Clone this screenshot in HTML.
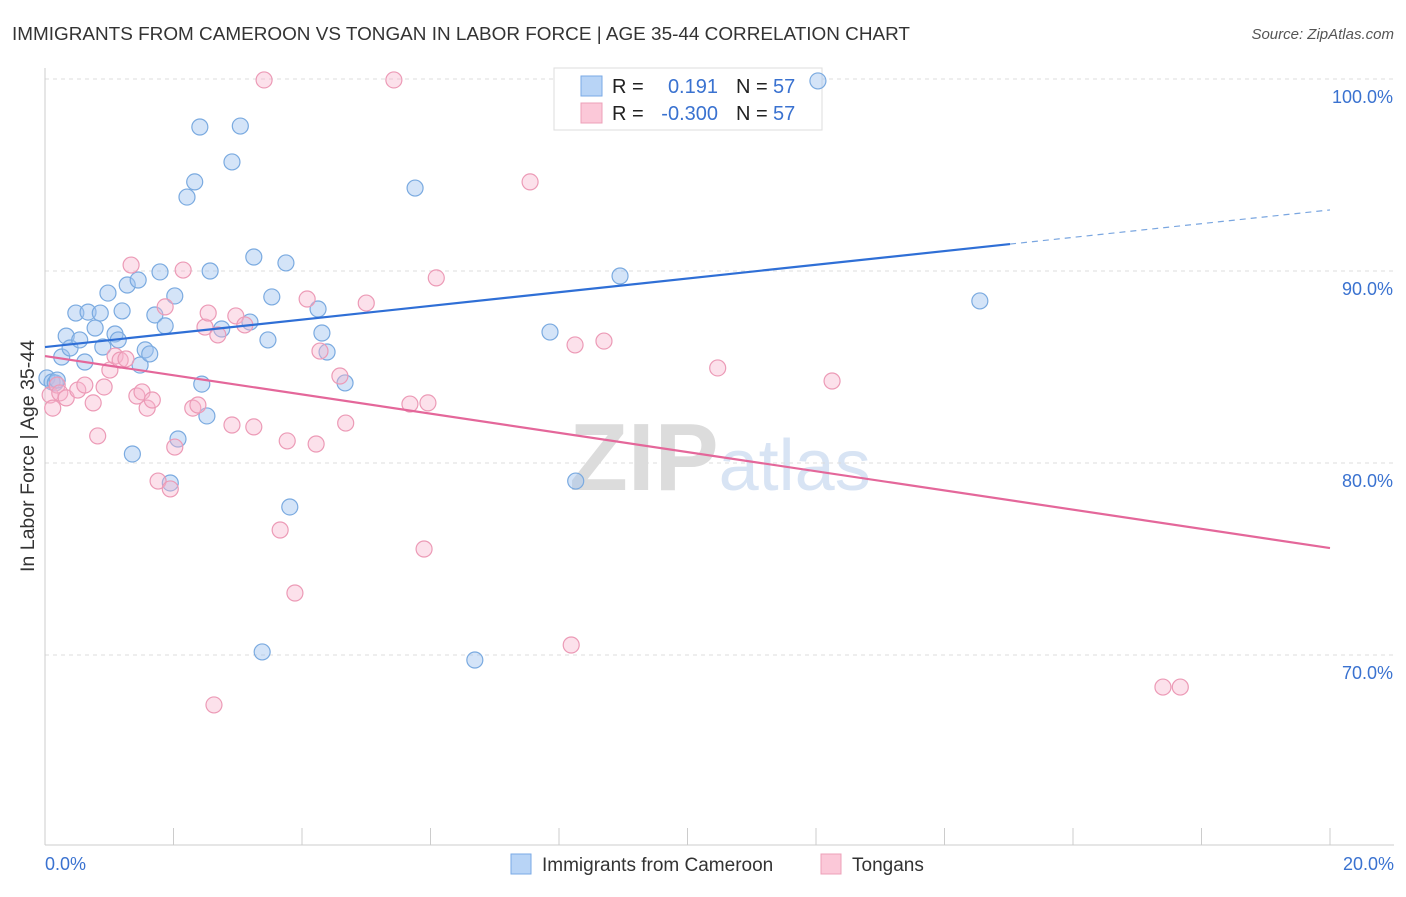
<!DOCTYPE html>
<html><head><meta charset="utf-8"><style>
body{margin:0;background:#fff;font-family:"Liberation Sans",sans-serif}
svg text{font-family:"Liberation Sans",sans-serif}
</style></head><body>
<svg id="chart" width="1406" height="892" xmlns="http://www.w3.org/2000/svg">
<text x="12" y="40" font-size="18.5" fill="#333" textLength="898" lengthAdjust="spacingAndGlyphs">IMMIGRANTS FROM CAMEROON VS TONGAN IN LABOR FORCE | AGE 35-44 CORRELATION CHART</text>
<text x="1394" y="39" font-size="15" fill="#555" font-style="italic" text-anchor="end">Source: ZipAtlas.com</text>
<text x="720" y="490" font-size="96" fill="#e4e4e4" text-anchor="middle" font-family="Liberation Serif"><tspan font-weight="bold" fill="#dcdcdc">ZIP</tspan><tspan fill="#d8e4f4" font-family="Liberation Sans" font-size="72">atlas</tspan></text>
<text transform="translate(34,456) rotate(-90)" font-size="19" fill="#333" text-anchor="middle" textLength="232" lengthAdjust="spacingAndGlyphs">In Labor Force | Age 35-44</text>
<g id="grid"></g><g id="axes"></g>
<g>
<rect x="554" y="68" width="268" height="62" fill="#fff" stroke="#ddd"/>
<rect x="581" y="76" width="21" height="20" fill="#b8d4f6" stroke="#7aaae6"/>
<rect x="581" y="103" width="21" height="20" fill="#fbc8d8" stroke="#eda0b8"/>
<text x="612" y="93" font-size="20" fill="#222">R =</text>
<text x="718" y="93" font-size="20" fill="#3a72d0" text-anchor="end">0.191</text>
<text x="736" y="93" font-size="20" fill="#222">N =</text>
<text x="773" y="93" font-size="20" fill="#3a72d0">57</text>
<text x="612" y="120" font-size="20" fill="#222">R =</text>
<text x="718" y="120" font-size="20" fill="#3a72d0" text-anchor="end">-0.300</text>
<text x="736" y="120" font-size="20" fill="#222">N =</text>
<text x="773" y="120" font-size="20" fill="#3a72d0">57</text>
</g>
<g id="pts"></g><g id="lines"></g>
<g>
<rect x="511" y="854" width="20" height="20" fill="#b8d4f6" stroke="#7aaae6"/>
<text x="542" y="871" font-size="19" fill="#333">Immigrants from Cameroon</text>
<rect x="821" y="854" width="20" height="20" fill="#fbc8d8" stroke="#eda0b8"/>
<text x="852" y="871" font-size="19" fill="#333">Tongans</text>
</g>
</svg>
<script>
const blueX=[0.03,0.11,0.16,0.19,0.26,0.33,0.39,0.48,0.54,0.62,0.67,0.78,0.86,0.90,0.98,1.09,1.14,1.20,1.28,1.36,1.45,1.48,1.56,1.63,1.71,1.79,1.87,1.95,2.02,2.07,2.21,2.33,2.41,2.44,2.52,2.57,2.75,2.91,3.04,3.19,3.25,3.38,3.47,3.53,3.75,3.81,4.25,4.31,4.39,4.67,5.76,6.69,7.86,8.26,8.95,12.03,14.55];
const blueY=[84.43,84.22,84.17,84.32,85.52,86.61,85.99,87.81,86.41,85.26,87.86,87.03,87.81,86.04,88.85,86.72,86.41,87.92,89.27,80.47,89.53,85.10,85.89,85.68,87.71,89.95,87.14,78.96,88.70,81.25,93.85,94.64,97.50,84.11,82.45,90.00,86.98,95.68,97.55,87.34,90.73,70.16,86.41,88.65,90.42,77.71,88.02,86.77,85.78,84.17,94.32,69.74,86.82,79.06,89.74,99.90,88.44];
const pinkX=[0.08,0.12,0.19,0.23,0.33,0.51,0.62,0.75,0.82,0.92,1.01,1.09,1.17,1.26,1.34,1.43,1.51,1.59,1.67,1.76,1.87,1.95,2.02,2.15,2.30,2.38,2.49,2.54,2.63,2.69,2.91,2.97,3.11,3.25,3.41,3.66,3.77,3.89,4.08,4.22,4.28,4.59,4.68,5.00,5.43,5.68,5.90,5.96,6.09,7.55,8.19,8.25,8.70,10.47,12.25,17.40,17.67];
const pinkY=[83.54,82.86,84.06,83.65,83.39,83.80,84.06,83.13,81.41,83.96,84.84,85.57,85.36,85.42,90.31,83.49,83.70,82.86,83.28,79.06,88.13,78.65,80.83,90.05,82.86,83.02,87.08,87.81,67.40,86.67,81.98,87.66,87.19,81.88,99.95,76.51,81.15,73.23,88.54,80.99,85.83,84.53,82.08,88.33,99.95,83.07,75.52,83.13,89.64,94.64,70.52,86.15,86.35,84.95,84.27,68.33,68.33];
const blueTrend=[86.04,0.357];
const pinkTrend=[85.57,-0.5];
const yTicks=[100,90,80,70];
const yTickLabels=["100.0%","90.0%","80.0%","70.0%"];
const xTickLabels=["0.0%","20.0%"];
const NS="http://www.w3.org/2000/svg";
const X=v=>45+v*64.25, Y=v=>79+(100-v)*19.2;
function mk(tag,attrs,parent){const e=document.createElementNS(NS,tag);for(const k in attrs)e.setAttribute(k,attrs[k]);document.getElementById(parent).appendChild(e);return e;}
yTicks.forEach((t,i)=>{
 const l=mk('line',{x1:45,x2:1394,y1:Y(t),y2:Y(t),stroke:'#ddd','stroke-dasharray':'4,4'},'grid');
 
 
 const tx=mk('text',{x:1393,y:Y(t)+24,'font-size':18,fill:'#3a72d0','text-anchor':'end'},'grid');tx.textContent=yTickLabels[i];
 
 
});
const ax=mk('line',{x1:45,x2:1394,y1:845,y2:845,stroke:'#ccc'},'axes');


const ay=mk('line',{x1:45,x2:45,y1:68,y2:845,stroke:'#ccc'},'axes');


for(let i=0;i<=10;i++){const t=mk('line',{x1:X(i*2),x2:X(i*2),y1:828,y2:845,stroke:'#ccc'},'axes');
 
 }
[[0,'start',45],[20,'end',1394]].forEach((d,i)=>{const t=mk('text',{x:d[2],y:870,'font-size':18,fill:'#3a72d0','text-anchor':d[1]},'axes');t.textContent=xTickLabels[i];
 
 });
blueX.forEach((x,i)=>{const c=mk('circle',{cx:X(x),cy:Y(blueY[i]),r:8,fill:'rgba(160,196,240,0.45)',stroke:'#7aaae0','stroke-width':1.2},'pts');
 
 });
pinkX.forEach((x,i)=>{const c=mk('circle',{cx:X(x),cy:Y(pinkY[i]),r:8,fill:'rgba(248,180,204,0.4)',stroke:'#ec9ab6','stroke-width':1.2},'pts');
 
 });
const bl=mk('line',{x1:X(0),y1:Y(blueTrend[0]),x2:X(15.02),y2:Y(blueTrend[0]+blueTrend[1]*15.02),stroke:'#2f6fd6','stroke-width':2.2},'lines');


const bd=mk('line',{x1:X(15.02),y1:Y(blueTrend[0]+blueTrend[1]*15.02),x2:X(20),y2:Y(blueTrend[0]+blueTrend[1]*20),stroke:'#7aa6e0','stroke-width':1.2,'stroke-dasharray':'6,5'},'lines');


const pl=mk('line',{x1:X(0),y1:Y(pinkTrend[0]),x2:X(20),y2:Y(pinkTrend[0]+pinkTrend[1]*20),stroke:'#e4679a','stroke-width':2.2},'lines');


</script>
</body></html>
